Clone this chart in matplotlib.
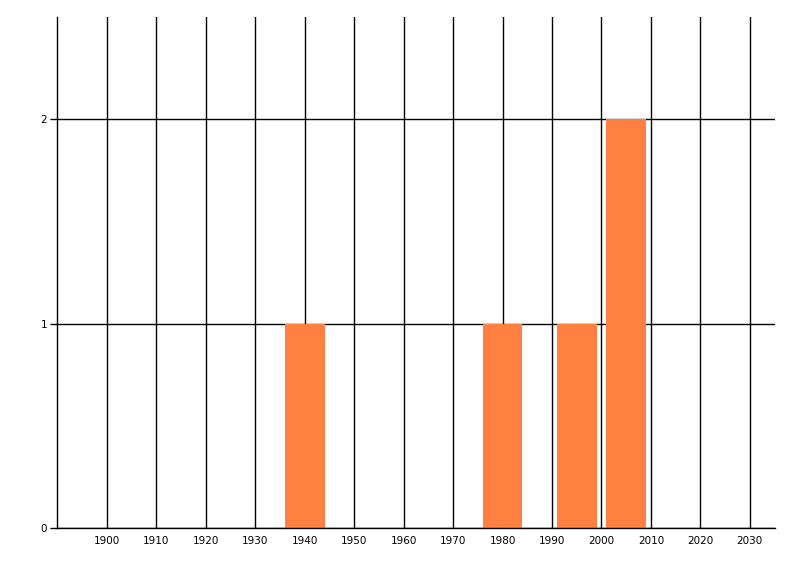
import matplotlib
matplotlib.use('Agg')
import matplotlib.pyplot as plt

# data
years = [1940, 1980, 1995, 2005]
counts = [1, 1, 1, 2]
xticks = list(range(1900, 2031, 10))
yticks = [0, 1, 2]

plt.rcParams['font.family'] = ['DejaVu Sans']

fig = plt.figure(figsize=(8, 5.76), dpi=100)
ax = fig.add_axes([0.0713, 0.0833, 0.8975, 0.8872])

ax.bar(years, counts, width=8, color='#FF8040', zorder=2)

ax.set_xlim(1889.9, 2035.1)
ax.set_ylim(0, 2.5)
ax.set_xticks(xticks)
ax.set_yticks(yticks)
ax.grid(True, color='black', linewidth=1, zorder=0)
ax.set_axisbelow(True)

for s in ['top', 'right']:
    ax.spines[s].set_visible(False)
for s in ['left', 'bottom']:
    ax.spines[s].set_linewidth(1)

ax.tick_params(axis='x', length=0, pad=6, labelsize=7.5)
ax.tick_params(axis='y', length=5, width=1, pad=2, labelsize=7.5)

fig.savefig('out.png', dpi=100)
